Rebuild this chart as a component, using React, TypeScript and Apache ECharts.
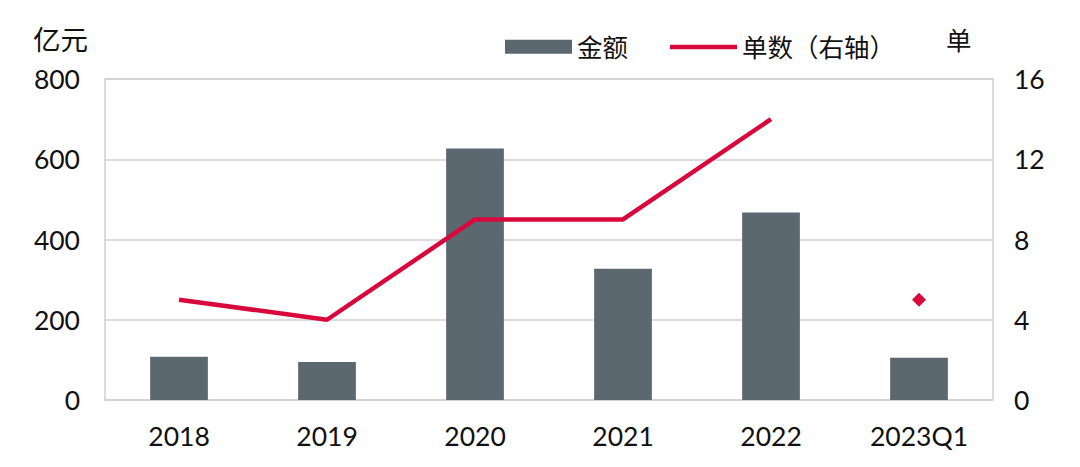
import React, { useEffect, useRef } from "react";
import * as echarts from "echarts";

const categories = ["2018", "2019", "2020", "2021", "2022", "2023Q1"];
const amountValues = [108, 95, 627, 327, 467, 105];
const countValues: (number | string)[] = [5, 4, 9, 9, 14, "-"];
const countQ1: (number | string)[] = ["-", "-", "-", "-", "-", 5];
const leftTicks = { min: 0, max: 800, interval: 200 };
const rightTicks = { min: 0, max: 16, interval: 4 };

const FONT = "Lato, 'Noto Sans CJK SC', sans-serif";
const BAR = "#5b6870";
const RED = "#d9083c";

export default function App() {
  const ref = useRef<HTMLDivElement>(null);
  useEffect(() => {
    if (!ref.current) return;
    const chart = echarts.init(ref.current, undefined, { renderer: "svg" });
    chart.setOption({
      animation: false,
      backgroundColor: "#ffffff",
      textStyle: { fontFamily: FONT },
      grid: {
        left: 105,
        right: 87,
        top: 79,
        bottom: 67,
        show: true,
        borderColor: "#d0d0d0",
        borderWidth: 1.5,
      },
      legend: {
        left: 500,
        top: 29,
        itemWidth: 67,
        itemHeight: 14,
        itemGap: 42,
        data: [
          { name: "金额", icon: "rect" },
          { name: "单数（右轴）", icon: "path://M0,0 M0,5 L70,5 L70,9.5 L0,9.5 Z M70,14" },
        ],
        textStyle: { fontSize: 25.5, color: "#111", fontFamily: FONT },
      },
      graphic: [
        {
          type: "text",
          left: 33,
          top: 26,
          style: { text: "亿元", fontSize: 27.5, fill: "#111", fontFamily: FONT },
        },
        {
          type: "text",
          left: 946,
          top: 27,
          style: { text: "单", fontSize: 25.5, fill: "#111", fontFamily: FONT },
        },
      ],
      xAxis: {
        type: "category",
        data: categories,
        axisTick: { show: false },
        axisLine: { show: false },
        axisLabel: { fontSize: 26.5, color: "#111", margin: 23, fontFamily: FONT },
      },
      yAxis: [
        {
          type: "value",
          ...leftTicks,
          axisLabel: { fontSize: 26.5, color: "#111", margin: 25, fontFamily: FONT },
          splitLine: { lineStyle: { color: "#d0d0d0", width: 1.5 } },
          axisLine: { show: false },
          axisTick: { show: false },
        },
        {
          type: "value",
          ...rightTicks,
          position: "right",
          axisLabel: { fontSize: 26.5, color: "#111", margin: 21, fontFamily: FONT },
          splitLine: { show: false },
          axisLine: { show: false },
          axisTick: { show: false },
        },
      ],
      series: [
        {
          name: "金额",
          type: "bar",
          data: amountValues,
          barWidth: "39%",
          itemStyle: { color: BAR },
        },
        {
          name: "单数（右轴）",
          type: "line",
          yAxisIndex: 1,
          data: countValues,
          symbol: "none",
          lineStyle: { color: RED, width: 4.5 },
          itemStyle: { color: RED },
        },
        {
          name: "单数Q1",
          type: "scatter",
          yAxisIndex: 1,
          data: countQ1,
          symbol: "diamond",
          symbolSize: 14,
          itemStyle: { color: RED, opacity: 1 },
        },
      ],
    });
    return () => chart.dispose();
  }, []);
  return (
    <div
      ref={ref}
      style={{ position: "absolute", left: 0, top: 0, width: 1080, height: 467 }}
    />
  );
}
